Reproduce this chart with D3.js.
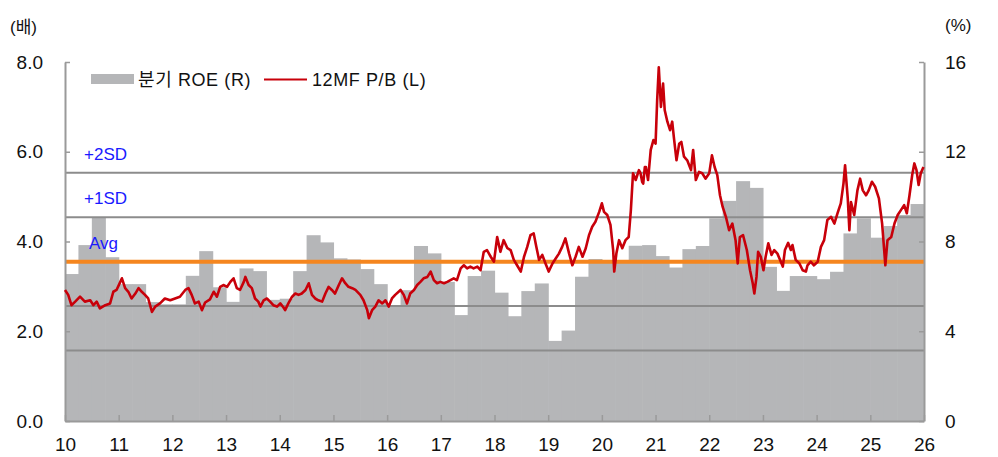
<!DOCTYPE html>
<html>
<head>
<meta charset="utf-8">
<script src="https://cdn.jsdelivr.net/npm/d3@7"></script>
<style>
body { margin: 0; background: #ffffff; }
</style>
</head>
<body>
<div class="graph"></div>
<script>

//data

// quarterly ROE (%), 2010 Q1 .. 2025 Q4, right axis
var roeValues = [
	6.55, 7.84, 9.09, 7.30,
	6.10, 6.10, 5.30, 5.20,
	5.20, 6.47, 7.57, 5.96,
	5.31, 6.80, 6.68, 5.40,
	5.45, 6.68, 8.28, 7.96,
	7.25, 7.20, 6.77, 6.10,
	5.15, 5.83, 7.80, 7.47,
	6.20, 4.72, 6.46, 6.70,
	5.72, 4.67, 5.79, 6.13,
	3.57, 4.03, 6.43, 7.22,
	7.15, 7.15, 7.81, 7.84,
	7.35, 6.84, 7.66, 7.80,
	9.03, 9.81, 10.69, 10.39,
	6.87, 5.80, 6.46, 6.46,
	6.32, 6.65, 8.36, 9.03,
	8.17, 8.69, 9.18, 9.67
];
var roeStartYear = 2010;

// 12MF P/B (x), left axis
var pbYears = [
	2010.00, 2010.06, 2010.12, 2010.19, 2010.28, 2010.37, 2010.47, 2010.53, 2010.59, 2010.65, 2010.75, 2010.84, 2010.90, 2010.96,
	2011.03, 2011.06, 2011.12, 2011.18, 2011.24, 2011.31, 2011.37, 2011.43, 2011.49, 2011.55, 2011.62, 2011.68, 2011.77, 2011.86, 2011.96,
	2012.05, 2012.14, 2012.24, 2012.30, 2012.36, 2012.42, 2012.49, 2012.55, 2012.61, 2012.70, 2012.77, 2012.83, 2012.89, 2012.95,
	2013.02, 2013.08, 2013.14, 2013.20, 2013.26, 2013.33, 2013.36, 2013.42, 2013.48, 2013.54, 2013.60, 2013.64, 2013.70, 2013.76, 2013.82, 2013.88, 2013.95,
	2014.01, 2014.07, 2014.10, 2014.16, 2014.23, 2014.29, 2014.35, 2014.41, 2014.48, 2014.54, 2014.60, 2014.66, 2014.72, 2014.79, 2014.85, 2014.91, 2014.97,
	2015.03, 2015.10, 2015.16, 2015.22, 2015.28, 2015.35, 2015.41, 2015.50, 2015.56, 2015.63, 2015.66, 2015.72, 2015.78, 2015.84, 2015.91, 2015.97,
	2016.03, 2016.09, 2016.15, 2016.25, 2016.31, 2016.37, 2016.43, 2016.50, 2016.56, 2016.62, 2016.68, 2016.75, 2016.81, 2016.87, 2016.93, 2016.99,
	2017.06, 2017.12, 2017.18, 2017.24, 2017.30, 2017.37, 2017.43, 2017.49, 2017.55, 2017.61, 2017.68, 2017.74, 2017.80, 2017.86, 2017.93, 2017.99,
	2018.05, 2018.11, 2018.17, 2018.24, 2018.30, 2018.36, 2018.42, 2018.49, 2018.55, 2018.61, 2018.67, 2018.73, 2018.78, 2018.83, 2018.89, 2018.95,
	2019.01, 2019.08, 2019.14, 2019.20, 2019.26, 2019.32, 2019.39, 2019.45, 2019.51, 2019.57, 2019.64, 2019.70, 2019.76, 2019.82, 2019.88, 2019.95,
	2020.00, 2020.04, 2020.10, 2020.16, 2020.21, 2020.23, 2020.27, 2020.32, 2020.38, 2020.44, 2020.50, 2020.54, 2020.58, 2020.63, 2020.69, 2020.72, 2020.75, 2020.77, 2020.80, 2020.82, 2020.86, 2020.91, 2020.96,
	2021.00, 2021.03, 2021.06, 2021.10, 2021.14, 2021.17, 2021.22, 2021.27, 2021.31, 2021.34, 2021.39, 2021.44, 2021.48, 2021.53, 2021.59, 2021.66, 2021.70, 2021.75, 2021.81, 2021.87, 2021.93,
	2022.00, 2022.05, 2022.10, 2022.15, 2022.20, 2022.25, 2022.31, 2022.37, 2022.43, 2022.49, 2022.53, 2022.57, 2022.63, 2022.70, 2022.76, 2022.81, 2022.84, 2022.88, 2022.91, 2022.96,
	2023.01, 2023.05, 2023.10, 2023.16, 2023.21, 2023.27, 2023.32, 2023.37, 2023.41, 2023.47, 2023.52, 2023.55, 2023.61, 2023.68, 2023.74, 2023.80, 2023.83, 2023.89, 2023.95,
	2024.02, 2024.08, 2024.14, 2024.20, 2024.27, 2024.33, 2024.39, 2024.45, 2024.50, 2024.53, 2024.58, 2024.61, 2024.64, 2024.70, 2024.76, 2024.81, 2024.86, 2024.92, 2024.97,
	2025.03, 2025.09, 2025.16, 2025.22, 2025.28, 2025.32, 2025.39, 2025.45, 2025.51, 2025.57, 2025.63, 2025.68, 2025.73, 2025.78, 2025.82, 2025.86, 2025.90, 2025.94, 2025.99
];
var pbValues = [
	2.92, 2.81, 2.58, 2.66, 2.77, 2.66, 2.69, 2.58, 2.66, 2.51, 2.58, 2.62, 2.88, 2.92,
	3.10, 3.18, 2.96, 2.88, 2.73, 2.84, 2.96, 2.88, 2.81, 2.73, 2.43, 2.55, 2.62, 2.73, 2.69,
	2.73, 2.77, 2.92, 2.96, 2.81, 2.62, 2.66, 2.47, 2.64, 2.71, 2.88, 2.77, 2.99, 3.03,
	2.99, 3.10, 3.18, 2.96, 2.92, 3.10, 3.21, 3.03, 2.96, 2.73, 2.66, 2.55, 2.69, 2.73, 2.66, 2.58, 2.55,
	2.62, 2.53, 2.47, 2.62, 2.77, 2.84, 2.81, 2.84, 2.92, 3.07, 2.81, 2.73, 2.69, 2.66, 2.84, 2.99, 2.92,
	2.84, 3.03, 3.18, 3.07, 2.99, 2.96, 2.92, 2.81, 2.69, 2.47, 2.29, 2.47, 2.55, 2.69, 2.62, 2.69,
	2.55, 2.73, 2.81, 2.92, 2.81, 2.62, 2.84, 2.92, 3.03, 3.10, 3.18, 3.21, 3.33, 3.14, 3.07, 3.10,
	3.07, 3.10, 3.14, 3.18, 3.14, 3.40, 3.47, 3.40, 3.44, 3.40, 3.44, 3.36, 3.77, 3.81, 3.66, 3.55,
	4.10, 3.77, 4.03, 3.85, 3.81, 3.59, 3.47, 3.33, 3.66, 3.88, 4.14, 4.18, 3.88, 3.59, 3.70, 3.51,
	3.33, 3.51, 3.62, 3.73, 3.88, 4.07, 3.73, 3.47, 3.66, 3.88, 3.66, 3.85, 4.14, 4.33, 4.44, 4.66,
	4.85, 4.66, 4.59, 4.37, 3.81, 3.33, 3.73, 4.03, 3.85, 4.03, 4.10, 4.70, 5.52, 5.37, 5.59, 5.52, 5.33, 5.29, 5.66, 5.66, 5.37, 6.04, 6.26,
	6.18, 7.15, 7.88, 7.00, 7.52, 6.93, 6.67, 6.48, 6.67, 6.33, 5.81, 6.18, 6.22, 5.89, 5.81, 5.59, 6.04, 5.37, 5.55, 5.52, 5.40,
	5.52, 5.92, 5.66, 5.48, 5.03, 4.77, 4.55, 4.25, 4.40, 4.03, 3.51, 4.10, 4.14, 3.81, 3.36, 3.07, 2.84, 3.21, 3.77, 3.66,
	3.36, 3.66, 3.96, 3.70, 3.81, 3.73, 3.59, 3.44, 3.81, 3.97, 3.81, 3.92, 3.59, 3.51, 3.36, 3.33, 3.47, 3.55, 3.47,
	3.55, 3.88, 4.03, 4.48, 4.55, 4.40, 4.63, 4.85, 5.29, 5.70, 4.96, 4.25, 4.88, 4.59, 5.14, 5.40, 5.14, 5.03, 5.14,
	5.33, 5.22, 4.96, 4.40, 3.47, 4.03, 4.10, 4.40, 4.59, 4.70, 4.81, 4.63, 5.03, 5.48, 5.74, 5.59, 5.26, 5.52, 5.66
];

// average and +-1, +-2 SD bands of P/B
var bandLabels = ["-2SD", "-1SD", "Avg", "+1SD", "+2SD"];
var bandValues = [1.57, 2.56, 3.55, 4.54, 5.53];
var bandShown = ["+2SD", "+1SD", "Avg"];

var yearTicks = d3.range(2010, 2027);
var leftTicks = [0, 2, 4, 6, 8];
var rightTicks = [0, 4, 8, 12, 16];

//prepare SVG

var svgWidth = 998;
var svgHeight = 457;
var fontFamily = "'Liberation Sans', 'Noto Sans CJK KR', Arial, sans-serif";

var colBar = "#b5b6b8";
var colLine = "#c8000a";
var colAvg = "#f5861f";
var colBand = "#8c8c8c";
var colAxis = "#9a9a9a";

var svg = d3.select("div.graph")
	.append("svg")
	.attr("width", svgWidth)
	.attr("height", svgHeight)
	.style("display", "block")
	.style("font-family", fontFamily);

var x = d3.scaleLinear().domain([2010, 2026]).range([65, 924]);
var yL = d3.scaleLinear().domain([0, 8]).range([421, 62]);
var yR = d3.scaleLinear().domain([0, 16]).range([421, 62]);

//ROE bars (quarters)

svg.append("g").selectAll("rect")
	.data(roeValues)
	.enter()
	.append("rect")
	.attr("x", function(d, n) { return x(roeStartYear + n / 4); })
	.attr("width", function(d, n) { return x(roeStartYear + (n + 1) / 4) - x(roeStartYear + n / 4) + 0.6; })
	.attr("y", function(d) { return yR(d); })
	.attr("height", function(d) { return yR(0) - yR(d); })
	.attr("fill", colBar);

//band lines

svg.append("g").selectAll("line")
	.data(bandLabels)
	.enter()
	.append("line")
	.attr("x1", x(2010))
	.attr("x2", x(2026))
	.attr("y1", function(d, n) { return yL(bandValues[n]); })
	.attr("y2", function(d, n) { return yL(bandValues[n]); })
	.attr("stroke", function(d) { return d == "Avg" ? colAvg : colBand; })
	.attr("stroke-width", function(d) { return d == "Avg" ? 4 : 2; });

//axes

function styleAxis(g) {
	g.attr("font-size", 19).attr("font-family", fontFamily);
	g.select(".domain").attr("stroke", colAxis).attr("stroke-width", 2);
	g.selectAll(".tick line").attr("stroke", colAxis).attr("stroke-width", 1.5);
	g.selectAll(".tick text").attr("fill", "#111");
}

var xAxis = d3.axisBottom(x)
	.tickValues(yearTicks)
	.tickFormat(function(d) { return String(d).slice(2); })
	.tickSizeInner(-6)
	.tickSizeOuter(0)
	.tickPadding(17);

var yAxisL = d3.axisLeft(yL)
	.tickValues(leftTicks)
	.tickFormat(d3.format(".1f"))
	.tickSizeInner(-5)
	.tickSizeOuter(0)
	.tickPadding(22);

var yAxisR = d3.axisRight(yR)
	.tickValues(rightTicks)
	.tickFormat(d3.format("d"))
	.tickSizeInner(-5)
	.tickSizeOuter(0)
	.tickPadding(21);

svg.append("g").attr("transform", "translate(0," + yL(0) + ")").call(xAxis).call(styleAxis);
svg.append("g").attr("transform", "translate(" + x(2010) + ",0)").call(yAxisL).call(styleAxis);
svg.append("g").attr("transform", "translate(" + x(2026) + ",0)").call(yAxisR).call(styleAxis);

//P/B line

var line = d3.line()
	.x(function(d) { return x(d[0]); })
	.y(function(d) { return yL(d[1]); });

svg.append("path")
	.datum(d3.zip(pbYears, pbValues))
	.attr("d", line)
	.attr("fill", "none")
	.attr("stroke", colLine)
	.attr("stroke-width", 2.6)
	.attr("stroke-linejoin", "round");

//band labels

svg.append("g").selectAll("text")
	.data(bandShown)
	.enter()
	.append("text")
	.attr("x", function(d) { return d == "Avg" ? 89 : 84; })
	.attr("y", function(d) { return yL(bandValues[bandLabels.indexOf(d)]) - 13; })
	.attr("font-size", 17)
	.attr("fill", "#1a1aff")
	.text(function(d) { return d; });

//units

svg.append("text").attr("x", 10).attr("y", 33).attr("font-size", 17).attr("fill", "#111").text("(배)");
svg.append("text").attr("x", 945).attr("y", 31).attr("font-size", 17).attr("fill", "#111").text("(%)");

//legend

var legend = svg.append("g").attr("font-size", 18).attr("letter-spacing", 0.6).attr("fill", "#111");
legend.append("rect").attr("x", 91).attr("y", 74).attr("width", 43).attr("height", 10).attr("fill", colBar);
legend.append("text").attr("x", 138).attr("y", 86).text("분기 ROE (R)");
legend.append("line").attr("x1", 264).attr("x2", 307).attr("y1", 79.5).attr("y2", 79.5)
	.attr("stroke", colLine).attr("stroke-width", 2.2);
legend.append("text").attr("x", 312).attr("y", 86).text("12MF P/B (L)");

</script>
</body>
</html>
